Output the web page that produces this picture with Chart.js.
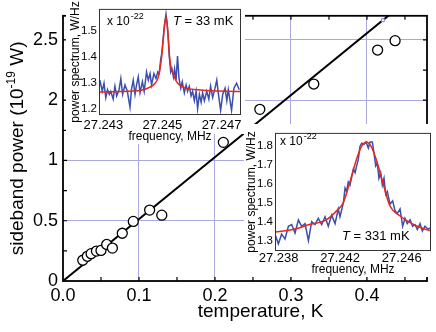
<!DOCTYPE html>
<html>
<head>
<meta charset="utf-8">
<script src="https://cdn.jsdelivr.net/npm/chart.js@4"></script>
<style>
  body { margin: 0; background: #fff; }
  #wrap { position: relative; width: 436px; height: 332px; }
  canvas { position: absolute; }
</style>
</head>
<body>
<div id="wrap">
  <canvas id="main" width="436" height="332" style="left:0;top:0"></canvas>
  <canvas id="ins1" width="179" height="144" style="left:66px;top:0;background:#fff;clip-path:polygon(0 0,179px 0,179px 134px,145px 134px,145px 144px,0 144px)"></canvas>
  <canvas id="ins2" width="192" height="153" style="left:244px;top:124px;background:#fff"></canvas>
</div>
<script>
// main plot: sideband power vs temperature
const tempK  = [0.026, 0.032, 0.037, 0.044, 0.050, 0.0575, 0.065, 0.078, 0.0925, 0.114, 0.130, 0.211, 0.259, 0.330, 0.414, 0.437];
const powerW = [0.172, 0.205, 0.227, 0.248, 0.254, 0.303, 0.273, 0.396, 0.494, 0.588, 0.546, 1.15, 1.424, 1.634, 1.916, 1.994];
const fitT = [0, 0.45];
const fitP = [0, 2.313];
const markT = [0.421];
const markP = [2.164];
const xTicks = [0, 0.1, 0.2, 0.3, 0.4];
const xTickLabels = ['0.0', '0.1', '0.2', '0.3', '0.4'];
const yTicks = [0, 0.5, 1, 1.5, 2];
const yTickLabels = ['0', '0.5', '1', '2', '2.5'];
const xMinor = [0.05, 0.1, 0.15, 0.2, 0.25, 0.3, 0.35, 0.4, 0.45];
const yMinor = [0.25, 0.5, 0.75, 1, 1.25, 1.5, 1.75, 2];

// inset 1: T = 33 mK
const freq33 = [27.24288,27.24296,27.24302,27.24308,27.24314,27.24320,27.24325,27.24333,27.24339,27.24345,
  27.24353,27.24359,27.24365,27.24373,27.24381,27.24390,27.24395,27.24401,27.24407,27.24412,
  27.24418,27.24424,27.24432,27.24438,27.24446,27.24452,27.24458,27.24463,27.24471,27.24478,
  27.24484,27.24489,27.24494,27.24498,27.24503,27.24507,27.24512,27.24516,27.24520,27.24523,
  27.24528,27.24532,27.24537,27.24541,27.24546,27.24551,27.24556,27.24562,27.24567,27.24574,
  27.24580,27.24585,27.24591,27.24597,27.24602,27.24608,27.24614,27.24619,27.24625,27.24631,
  27.24636,27.24642,27.24650,27.24657,27.24663,27.24670,27.24678,27.24684,27.24689,27.24697,
  27.24704,27.24712,27.24718,27.24723,27.24734,27.24742,27.24751,27.24760];
const spec33 = [1.312,1.269,1.300,1.245,1.275,1.257,1.269,1.239,1.288,1.251,
  1.275,1.318,1.257,1.293,1.269,1.208,1.275,1.312,1.257,1.293,
  1.324,1.263,1.306,1.269,1.343,1.312,1.337,1.293,1.337,1.318,
  1.343,1.337,1.391,1.416,1.477,1.526,1.565,1.526,1.464,1.404,
  1.343,1.355,1.324,1.355,1.312,1.404,1.318,1.281,1.306,1.263,
  1.293,1.269,1.288,1.251,1.269,1.233,1.269,1.202,1.257,1.227,
  1.263,1.233,1.269,1.239,1.288,1.245,1.281,1.312,1.263,1.196,
  1.257,1.281,1.233,1.275,1.196,1.281,1.300,1.275];
const fitFreq33 = [27.24285, 27.2440, 27.24424, 27.24458, 27.24475, 27.24486, 27.24497, 27.24505, 27.24512, 27.24518, 27.24525, 27.24537, 27.24548, 27.2457, 27.2462, 27.24766];
const fit33 = [1.266, 1.270, 1.272, 1.285, 1.300, 1.324, 1.400, 1.500, 1.555, 1.500, 1.390, 1.335, 1.305, 1.285, 1.275, 1.268];
const ins1XTicks = [27.243, 27.245, 27.247];
const ins1YTicks = [1.2, 1.3, 1.4, 1.5];

// inset 2: T = 331 mK
const freq331 = [27.23777,27.23799,27.23820,27.23842,27.23864,27.23885,27.23907,27.23929,27.23950,27.23972,
  27.23994,27.24015,27.24037,27.24058,27.24080,27.24102,27.24123,27.24145,27.24167,27.24188,
  27.24199,27.24221,27.24232,27.24242,27.24253,27.24264,27.24286,27.24297,27.24307,27.24318,
  27.24329,27.24340,27.24355,27.24368,27.24383,27.24394,27.24409,27.24420,27.24431,27.24441,
  27.24452,27.24463,27.24474,27.24485,27.24496,27.24506,27.24524,27.24541,27.24556,27.24571,
  27.24589,27.24606,27.24621,27.24636,27.24654,27.24671,27.24686,27.24701,27.24719,27.24734,
  27.24751,27.24773,27.24784];
const spec331 = [1.334,1.283,1.334,1.309,1.376,1.385,1.340,1.410,1.376,1.390,
  1.300,1.400,1.385,1.418,1.385,1.426,1.376,1.435,1.390,1.468,
  1.426,1.500,1.578,1.560,1.610,1.594,1.680,1.660,1.695,1.730,
  1.800,1.815,1.810,1.822,1.790,1.822,1.822,1.763,1.695,1.710,
  1.630,1.660,1.594,1.630,1.544,1.560,1.493,1.510,1.460,1.443,
  1.468,1.376,1.418,1.390,1.410,1.376,1.385,1.359,1.390,1.350,
  1.376,1.359,1.368];
const fitFreq331 = [27.23777, 27.2390, 27.2400, 27.2411, 27.2418, 27.2422, 27.2426, 27.2431, 27.2434, 27.2437, 27.2440, 27.2443, 27.2448, 27.2452, 27.2459, 27.2470, 27.2479];
const fit331 = [1.345, 1.360, 1.385, 1.410, 1.460, 1.500, 1.600, 1.740, 1.800, 1.822, 1.800, 1.740, 1.600, 1.490, 1.430, 1.376, 1.350];
const ins2XTicks = [27.238, 27.242, 27.246];
const ins2YTicks = [1.3, 1.4, 1.5, 1.6, 1.7, 1.8];

const FONT = 'Liberation Sans, Arial, sans-serif';
const gridColor = '#a9a9de';
const blue = '#3b4fae';
const red = '#e8261e';

const pts = (xs, ys) => xs.map((x, i) => ({ x, y: ys[i] }));

// frame, inward ticks and axis titles of the main plot
const mainDecor = {
  id: 'mainDecor',
  afterDraw(chart) {
    const { ctx, chartArea: a, scales: { x, y } } = chart;
    ctx.save();
    ctx.strokeStyle = '#000';
    ctx.lineWidth = 1.2;
    ctx.beginPath();
    xMinor.forEach(v => {
      const px = x.getPixelForValue(v);
      ctx.moveTo(px, a.bottom); ctx.lineTo(px, a.bottom - 4);
      ctx.moveTo(px, a.top); ctx.lineTo(px, a.top + 4);
    });
    yMinor.forEach(v => {
      const py = y.getPixelForValue(v);
      ctx.moveTo(a.left, py); ctx.lineTo(a.left + 4, py);
      ctx.moveTo(a.right, py); ctx.lineTo(a.right - 4, py);
    });
    ctx.stroke();
    ctx.lineWidth = 1.8;
    ctx.strokeRect(a.left, a.top, a.right - a.left, a.bottom - a.top);

    ctx.fillStyle = '#000';
    ctx.textBaseline = 'middle';
    ctx.textAlign = 'center';
    ctx.font = '19px ' + FONT;
    ctx.fillText('temperature, K', x.getPixelForValue(0.26), 312);

    // rotated y title with superscript
    const big = '19px ' + FONT, small = '12px ' + FONT;
    const p1 = 'sideband power (10', p2 = '-19', p3 = ' W)';
    ctx.font = big; const w1 = ctx.measureText(p1).width, w3 = ctx.measureText(p3).width;
    ctx.font = small; const w2 = ctx.measureText(p2).width;
    const tot = w1 + w2 + w3;
    ctx.translate(16, (a.top + a.bottom) / 2);
    ctx.rotate(-Math.PI / 2);
    ctx.textAlign = 'left';
    ctx.textBaseline = 'alphabetic';
    let sx = -tot / 2;
    ctx.font = big; ctx.fillText(p1, sx, 7); sx += w1;
    ctx.font = small; ctx.fillText(p2, sx, -1); sx += w2;
    ctx.font = big; ctx.fillText(p3, sx, 7);
    ctx.restore();
  }
};

new Chart(document.getElementById('main'), {
  type: 'scatter',
  data: {
    datasets: [
      { data: pts(tempK, powerW), pointRadius: 5, pointHoverRadius: 5, pointBorderWidth: 1.3,
        pointBorderColor: '#000', pointBackgroundColor: '#fff', order: 0 },
      { data: pts(markT, markP), pointStyle: 'rect', pointRadius: 2, pointBorderWidth: 1,
        pointBorderColor: '#6f8fd8', pointBackgroundColor: '#fff', order: 0 },
      { type: 'line', data: pts(fitT, fitP), borderColor: '#000', borderWidth: 2, pointRadius: 0, order: 1 }
    ]
  },
  options: {
    responsive: false, animation: false, events: [],
    layout: { padding: { top: 12, right: 9, left: 0, bottom: 0 } },
    plugins: { legend: { display: false }, tooltip: { enabled: false } },
    scales: {
      x: {
        type: 'linear', min: 0, max: 0.479,
        afterBuildTicks: s => { s.ticks = xTicks.map(v => ({ value: v })); },
        afterFit: s => { s.height = 51; },
        border: { display: false },
        grid: { color: c => (c.tick && c.tick.value > 0 ? gridColor : 'transparent'), drawTicks: false, lineWidth: 1 },
        ticks: { padding: 4, autoSkip: false, maxRotation: 0, color: '#000', font: { family: FONT, size: 18 },
                 callback: (v, i) => xTickLabels[i] }
      },
      y: {
        min: 0, max: 2.2,
        afterBuildTicks: s => { s.ticks = yTicks.map(v => ({ value: v })); },
        afterFit: s => { s.width = 63; },
        border: { display: false },
        grid: { color: c => (c.tick && c.tick.value > 0 ? gridColor : 'transparent'), drawTicks: false, lineWidth: 1 },
        ticks: { padding: 5, autoSkip: false, color: '#000', font: { family: FONT, size: 18 },
                 callback: (v, i) => yTickLabels[i] }
      }
    }
  },
  plugins: [mainDecor]
});

// inset factory
function inset(id, cfg) {
  const deco = {
    id: 'deco' + id,
    afterDraw(chart) {
      const { ctx, chartArea: a } = chart;
      ctx.save();
      ctx.strokeStyle = '#333';
      ctx.lineWidth = 1;
      ctx.strokeRect(a.left + 0.5, a.top + 0.5, a.right - a.left - 1, a.bottom - a.top - 1);
      ctx.fillStyle = '#000';
      ctx.textBaseline = 'alphabetic';
      ctx.textAlign = 'left';
      // x 10^-22
      ctx.font = '12px ' + FONT;
      ctx.fillText('x 10', cfg.mult[0], cfg.mult[1]);
      const w = ctx.measureText('x 10').width;
      ctx.font = '9px ' + FONT;
      ctx.fillText('-22', cfg.mult[0] + w + 1, cfg.mult[1] - 6);
      // temperature label
      ctx.font = 'italic 13px ' + FONT;
      ctx.fillText('T', cfg.temp[0], cfg.temp[1]);
      const wt = ctx.measureText('T').width;
      ctx.font = '13px ' + FONT;
      ctx.fillText(' = ' + cfg.tempText, cfg.temp[0] + wt, cfg.temp[1]);
      ctx.restore();
    }
  };
  new Chart(document.getElementById(id), {
    type: 'scatter',
    data: {
      datasets: [
        { data: pts(cfg.fitF, cfg.fitV), showLine: true, borderColor: red, borderWidth: 1.5, pointRadius: 0,
          cubicInterpolationMode: 'monotone', order: 0 },
        { data: pts(cfg.f, cfg.v), showLine: true, borderColor: blue, borderWidth: 1.5, pointRadius: 0, order: 1 }
      ]
    },
    options: {
      responsive: false, animation: false, events: [],
      layout: { padding: { top: cfg.pad[0], right: cfg.pad[1], left: 0, bottom: 0 } },
      plugins: { legend: { display: false }, tooltip: { enabled: false } },
      scales: {
        x: {
          type: 'linear', min: cfg.xr[0], max: cfg.xr[1],
          afterBuildTicks: s => { s.ticks = cfg.xt.map(v => ({ value: v })); },
          afterFit: s => { s.height = cfg.xh; },
          border: { display: false }, grid: { display: false, drawTicks: false },
          ticks: { padding: cfg.xpad, autoSkip: false, maxRotation: 0, color: '#000', font: { family: FONT, size: 13 },
                   callback: v => v.toFixed(3) },
          title: { display: true, text: 'frequency, MHz', color: '#000', font: { family: FONT, size: 12 },
                   padding: { top: 0, bottom: 0 } }
        },
        y: {
          min: cfg.yr[0], max: cfg.yr[1],
          afterBuildTicks: s => { s.ticks = cfg.yt.map(v => ({ value: v })); },
          afterFit: s => { s.width = cfg.yw; },
          border: { display: false }, grid: { display: false, drawTicks: false },
          ticks: { padding: 2, autoSkip: false, color: '#000', font: { family: FONT, size: 11.5 },
                   callback: v => v.toFixed(1) },
          title: { display: true, text: 'power spectrum, W/Hz', color: '#000', font: { family: FONT, size: 12 },
                   padding: { top: cfg.ytp, bottom: 0 } }
        }
      }
    },
    plugins: [deco]
  });
}

inset('ins1', {
  f: freq33, v: spec33, fitF: fitFreq33, fitV: fit33,
  xr: [27.24285, 27.24766], yr: [1.178, 1.585], xt: ins1XTicks, yt: ins1YTicks,
  pad: [4, 4], xh: 29, yw: 33, xpad: 3, ytp: 2,
  mult: [41, 25], temp: [107, 25], tempText: '33 mK'
});

inset('ins2', {
  f: freq331, v: spec331, fitF: fitFreq331, fitV: fit331,
  xr: [27.23777, 27.2479], yr: [1.245, 1.87], xt: ins2XTicks, yt: ins2YTicks,
  pad: [3, 5], xh: 26, yw: 31, xpad: 0, ytp: 0,
  mult: [36, 21], temp: [98, 116], tempText: '331 mK'
});
</script>
</body>
</html>
